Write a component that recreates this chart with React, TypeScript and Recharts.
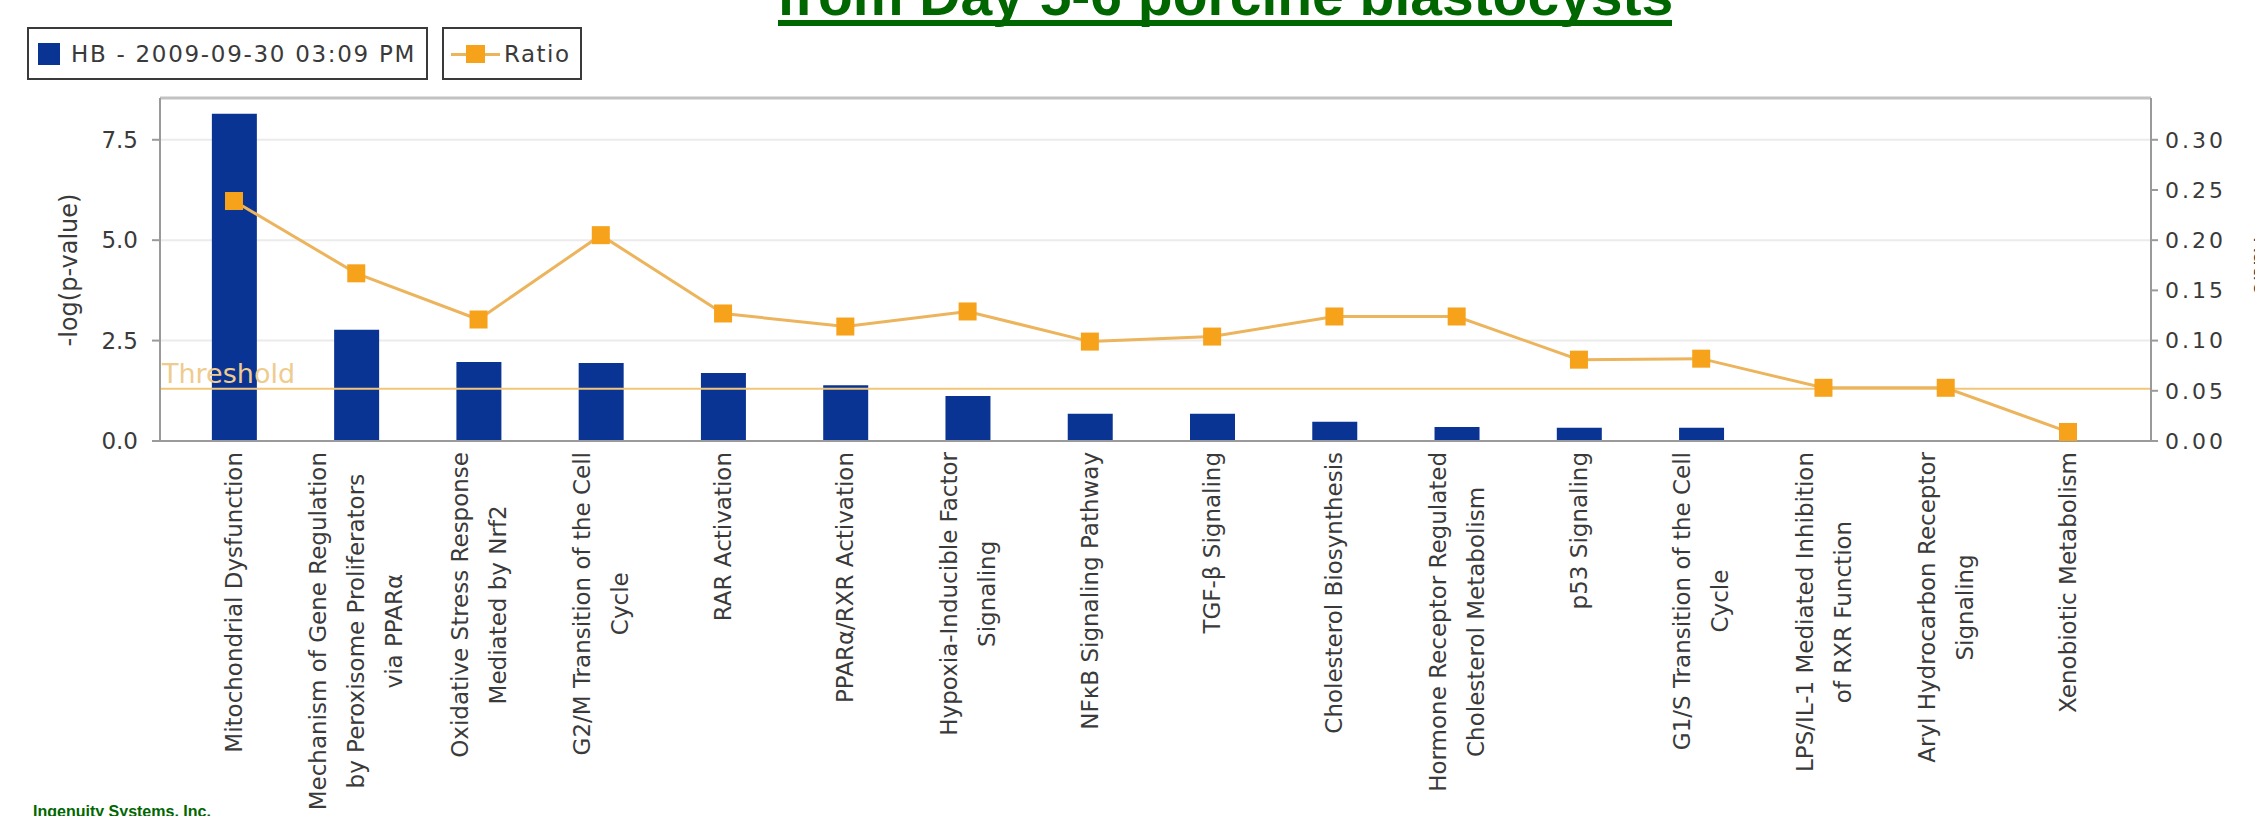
import React from 'react';
import {
  ComposedChart,
  Bar,
  Line,
  XAxis,
  YAxis,
  CartesianGrid,
  ReferenceLine,
  Legend,
} from 'recharts';

// ---------- data ----------
const categories: string[] = [
  'Mitochondrial Dysfunction',
  'Mechanism of Gene Regulation\nby Peroxisome Proliferators\nvia PPARα',
  'Oxidative Stress Response\nMediated by Nrf2',
  'G2/M Transition of the Cell\nCycle',
  'RAR Activation',
  'PPARα/RXR Activation',
  'Hypoxia-Inducible Factor\nSignaling',
  'NFκB Signaling Pathway',
  'TGF-β Signaling',
  'Cholesterol Biosynthesis',
  'Hormone Receptor Regulated\nCholesterol Metabolism',
  'p53 Signaling',
  'G1/S Transition of the Cell\nCycle',
  'LPS/IL-1 Mediated Inhibition\nof RXR Function',
  'Aryl Hydrocarbon Receptor\nSignaling',
  'Xenobiotic Metabolism',
];
const negLogP: number[] = [8.15, 2.77, 1.97, 1.94, 1.69, 1.39, 1.12, 0.68, 0.68, 0.48, 0.35, 0.33, 0.33, 0, 0, 0];
const ratioValues: number[] = [0.239, 0.167, 0.121, 0.205, 0.127, 0.114, 0.129, 0.099, 0.104, 0.124, 0.124, 0.081, 0.082, 0.053, 0.053, 0.009];
const leftTicks: number[] = [0, 2.5, 5, 7.5];
const rightTicks: number[] = [0, 0.05, 0.1, 0.15, 0.2, 0.25, 0.3];
const leftMax = 8.54;
const rightMax = 0.3416;
const thresholdValue = 1.3;
const seriesNames: string[] = ['HB - 2009-09-30 03:09 PM', 'Ratio'];
const leftAxisTitle = '-log(p-value)';
const rightAxisTitle = 'Ratio';
const thresholdText = 'Threshold';
const titleText = 'from Day 5-6 porcine blastocysts';
const footerText = 'Ingenuity Systems, Inc.';

const data = categories.map((name, i) => ({ name, p: negLogP[i], ratio: ratioValues[i] }));

// ---------- styles ----------
const BAR_COLOR = '#0a3494';
const LINE_COLOR = '#ecb45c';
const MARKER_COLOR = '#f7a21b';
const THRESH_COLOR = '#f2c678';
const AXIS_COLOR = '#9a9a9a';
const TEXT_COLOR = '#3a3a3a';
const GREEN = '#006600';
const FONT = 'DejaVu Sans';
const CAT_FONT_SIZE = 23;

let measureCtx: CanvasRenderingContext2D | null = null;
const measure = (s: string): number => {
  if (typeof document !== 'undefined') {
    if (!measureCtx) {
      const c = document.createElement('canvas');
      measureCtx = c.getContext('2d');
    }
    if (measureCtx) {
      measureCtx.font = `${CAT_FONT_SIZE}px "${FONT}"`;
      return measureCtx.measureText(s).width;
    }
  }
  return s.length * CAT_FONT_SIZE * 0.55;
};

const CatTick = (props: any) => {
  const { x, y, payload } = props;
  const lines = String(payload.value).split('\n');
  const spacing = 38;
  const maxW = Math.max(...lines.map(measure));
  return (
    <g transform={`translate(${x},${y}) rotate(-90)`}>
      {lines.map((ln, i) => (
        <text
          key={i}
          x={-maxW / 2}
          y={(i - (lines.length - 1) / 2) * spacing}
          dy="0.35em"
          textAnchor="middle"
          fontSize={CAT_FONT_SIZE}
          fontFamily={FONT}
          fill={TEXT_COLOR}
        >
          {ln}
        </text>
      ))}
    </g>
  );
};

const SquareDot = (props: any) => {
  const { cx, cy, index } = props;
  if (cx == null || cy == null) return <g key={index} />;
  return <rect key={index} x={cx - 9} y={cy - 9} width={18} height={18} fill={MARKER_COLOR} />;
};

const ThresholdLabel = (props: any) => {
  const vb = props.viewBox || {};
  return (
    <text x={(vb.x ?? 0) + 2} y={(vb.y ?? 0) - 6} fontSize={27} fontFamily={FONT} fill="#efcb8e">
      {thresholdText}
    </text>
  );
};

const renderLegend = () => (
  <div style={{ display: 'flex', gap: 14, fontFamily: FONT, fontSize: 23, color: TEXT_COLOR }}>
    <div
      style={{
        boxSizing: 'border-box',
        width: 401,
        height: 53,
        border: '2px solid #3a3a3a',
        display: 'flex',
        alignItems: 'center',
        paddingLeft: 9,
        background: '#fff',
      }}
    >
      <div style={{ width: 22, height: 22, background: BAR_COLOR, marginRight: 11 }} />
      <span style={{ letterSpacing: 1.7, whiteSpace: 'nowrap' }}>{seriesNames[0]}</span>
    </div>
    <div
      style={{
        boxSizing: 'border-box',
        width: 140,
        height: 53,
        border: '2px solid #3a3a3a',
        display: 'flex',
        alignItems: 'center',
        paddingLeft: 7,
        background: '#fff',
      }}
    >
      <div style={{ position: 'relative', width: 49, height: 20, marginRight: 4 }}>
        <div style={{ position: 'absolute', left: 0, right: 0, top: 9, height: 3, background: LINE_COLOR }} />
        <div style={{ position: 'absolute', left: 15, top: 1, width: 19, height: 18, background: MARKER_COLOR }} />
      </div>
      <span style={{ letterSpacing: 1.5 }}>{seriesNames[1]}</span>
    </div>
  </div>
);

export default function App() {
  return (
    <div style={{ position: 'absolute', left: 0, top: 0, width: 2255, height: 816, background: '#ffffff', overflow: 'hidden' }}>
      <ComposedChart
        width={2255}
        height={816}
        data={data}
        margin={{ top: 98, right: 24, bottom: 25, left: 60 }}
      >
        <CartesianGrid yAxisId="left" vertical={false} stroke="#ebebeb" strokeWidth={2} />
        <XAxis
          dataKey="name"
          interval={0}
          height={350}
          padding={{ left: 12.87, right: 21.87 }}
          tickLine={false}
          tickSize={0}
          tickMargin={11}
          axisLine={{ stroke: AXIS_COLOR, strokeWidth: 2 }}
          tick={<CatTick />}
        />
        <YAxis
          yAxisId="left"
          orientation="left"
          width={100}
          domain={[0, leftMax]}
          ticks={leftTicks}
          allowDataOverflow
          tickFormatter={(v: number) => v.toFixed(1)}
          tickSize={8}
          tickMargin={14}
          axisLine={{ stroke: AXIS_COLOR, strokeWidth: 2 }}
          tickLine={{ stroke: AXIS_COLOR, strokeWidth: 2 }}
          tick={{ fontSize: 23, fill: TEXT_COLOR, fontFamily: FONT }}
        />
        <YAxis
          yAxisId="right"
          orientation="right"
          width={80}
          domain={[0, rightMax]}
          ticks={rightTicks}
          allowDataOverflow
          tickFormatter={(v: number) => v.toFixed(2)}
          tickSize={7}
          tickMargin={7}
          axisLine={{ stroke: AXIS_COLOR, strokeWidth: 2 }}
          tickLine={{ stroke: AXIS_COLOR, strokeWidth: 2 }}
          tick={{ fontSize: 22, fill: TEXT_COLOR, fontFamily: FONT, letterSpacing: 3 }}
        />
        <ReferenceLine yAxisId="left" y={leftMax} stroke="#c2c2c2" strokeWidth={3} />
        <Bar yAxisId="left" dataKey="p" fill={BAR_COLOR} barSize={45} isAnimationActive={false} />
        <ReferenceLine
          yAxisId="left"
          y={thresholdValue}
          stroke={THRESH_COLOR}
          strokeWidth={2}
          label={<ThresholdLabel />}
        />
        <Line
          yAxisId="right"
          type="linear"
          dataKey="ratio"
          stroke={LINE_COLOR}
          strokeWidth={3}
          dot={<SquareDot />}
          activeDot={false}
          isAnimationActive={false}
        />
        <Legend
          layout="horizontal"
          verticalAlign="middle"
          align="center"
          content={renderLegend}
          wrapperStyle={{ top: 27, left: 27, width: 'auto' }}
        />
        <text
          transform="translate(69,270) rotate(-90)"
          textAnchor="middle"
          dominantBaseline="central"
          fontSize={24}
          fontFamily={FONT}
          fill={TEXT_COLOR}
        >
          {leftAxisTitle}
        </text>
        <text
          transform="translate(2262,266) rotate(90)"
          textAnchor="middle"
          dominantBaseline="central"
          fontSize={23}
          fontFamily={FONT}
          fill={TEXT_COLOR}
        >
          {rightAxisTitle}
        </text>
        <text
          x={1225}
          y={15}
          textAnchor="middle"
          fontSize={57}
          fontWeight="bold"
          fontFamily="Liberation Sans, Arial, sans-serif"
          fill={GREEN}
        >
          {titleText}
        </text>
        <rect x={778} y={20} width={894} height={6} fill={GREEN} />
        <text
          x={33}
          y={817}
          fontSize={16}
          fontWeight="bold"
          fontFamily="Liberation Sans, Arial, sans-serif"
          fill={GREEN}
        >
          {footerText}
        </text>
      </ComposedChart>
    </div>
  );
}
